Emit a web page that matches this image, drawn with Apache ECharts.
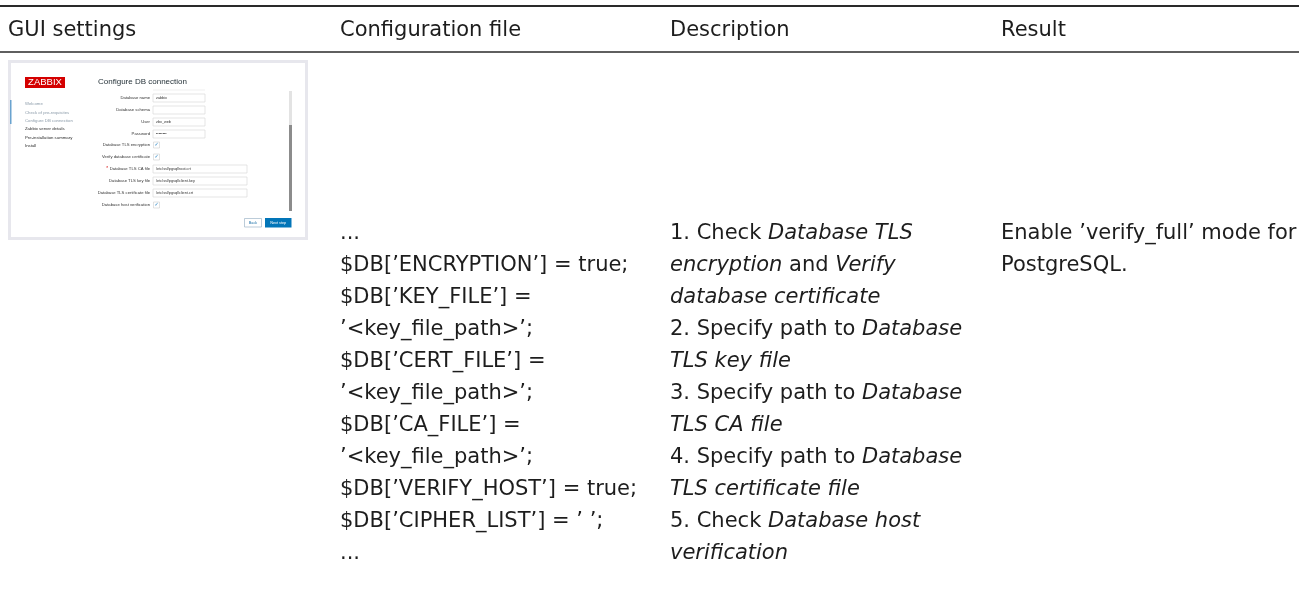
<!DOCTYPE html>
<html>
<head>
<meta charset="utf-8">
<script src="https://cdn.jsdelivr.net/npm/echarts@6/dist/echarts.min.js"></script>
<style>
html,body{margin:0;padding:0;background:#fff;}
#chart{width:1299px;height:600px;}
</style>
</head>
<body>
<div id="chart"></div>
<script>
// ---- table content ----
const headers = ['GUI settings', 'Configuration file', 'Description', 'Result'];
const configLines = [
  '...',
  '$DB[\u2019ENCRYPTION\u2019] = true;',
  '$DB[\u2019KEY_FILE\u2019] =',
  '\u2019<key_file_path>\u2019;',
  '$DB[\u2019CERT_FILE\u2019] =',
  '\u2019<key_file_path>\u2019;',
  '$DB[\u2019CA_FILE\u2019] =',
  '\u2019<key_file_path>\u2019;',
  '$DB[\u2019VERIFY_HOST\u2019] = true;',
  '$DB[\u2019CIPHER_LIST\u2019] = \u2019 \u2019;',
  '...'
];
const descriptionLines = [
  '1. Check {i|Database TLS}',
  '{i|encryption} and {i|Verify}',
  '{i|database certificate}',
  '2. Specify path to {i|Database}',
  '{i|TLS key file}',
  '3. Specify path to {i|Database}',
  '{i|TLS CA file}',
  '4. Specify path to {i|Database}',
  '{i|TLS certificate file}',
  '5. Check {i|Database host}',
  '{i|verification}'
];
const resultLines = ['Enable \u2019verify_full\u2019 mode for', 'PostgreSQL.'];

// ---- screenshot thumbnail content ----
const thumbMenu = ['Welcome', 'Check of pre-requisites', 'Configure DB connection', 'Zabbix server details', 'Pre-installation summary', 'Install'];
const thumbLabels = ['Database name', 'Database schema', 'User', 'Password', 'Database TLS encryption', 'Verify database certificate', 'Database TLS CA file', 'Database TLS key file', 'Database TLS certificate file', 'Database host verification'];
const thumbValues = ['zabbix', '', 'zbx_web', '\u2022\u2022\u2022\u2022\u2022\u2022\u2022\u2022', 'check', 'check', '/etc/ssl/pgsql/root.crt', '/etc/ssl/pgsql/client.key', '/etc/ssl/pgsql/client.crt', 'check'];

const FONT = 'DejaVu Sans';
const FS = 21;
const LH = 32;
const TXT = '#1d1d1d';
const colX = [8, 340, 670, 1001];
const firstLineY = 234;

const g = [];
// table rules
g.push({type:'line', shape:{x1:0,y1:6,x2:1299,y2:6}, style:{stroke:'#2a2a2a', lineWidth:2}});
g.push({type:'line', shape:{x1:0,y1:52,x2:1299,y2:52}, style:{stroke:'#2a2a2a', lineWidth:1.5}});

headers.forEach((h, i) => {
  g.push({type:'text', x:colX[i], y:31, style:{text:h, fontFamily:FONT, fontSize:FS, fill:TXT, verticalAlign:'middle'}});
});

function addLines(lines, x) {
  lines.forEach((t, i) => {
    g.push({type:'text', x:x, y:firstLineY + i * LH, style:{
      text:t, fontFamily:FONT, fontSize:FS, fill:TXT, verticalAlign:'middle',
      rich:{ i:{fontFamily:FONT, fontSize:FS, fontStyle:'italic', fill:TXT} }
    }});
  });
}
addLines(configLines, colX[1]);
addLines(descriptionLines, colX[2]);
addLines(resultLines, colX[3]);

// thumbnail
g.push({type:'rect', shape:{x:8,y:60,width:300,height:180}, style:{fill:'#e7e7ed'}});
g.push({type:'rect', shape:{x:11,y:63,width:294,height:174}, style:{fill:'#ffffff'}});
g.push({type:'rect', shape:{x:25,y:77,width:40,height:11}, style:{fill:'#d40000'}});
g.push({type:'text', x:45, y:82.5, style:{text:'ZABBIX', fontFamily:'Liberation Sans', fontSize:9.5, fill:'#fff', align:'center', verticalAlign:'middle'}});
g.push({type:'text', x:98, y:82, style:{text:'Configure DB connection', fontFamily:'Liberation Sans', fontSize:8, fill:'#1f2c33', verticalAlign:'middle'}});
g.push({type:'rect', shape:{x:10,y:100,width:1.5,height:24}, style:{fill:'#6aa3cf'}});
thumbMenu.forEach((t, i) => {
  g.push({type:'text', x:25, y:104 + i * 8.4, style:{text:t, fontFamily:'Liberation Sans', fontSize:4.3, fill: i < 3 ? '#8a9aa8' : '#2a2a2a', verticalAlign:'middle'}});
});
const rowY = [98, 110, 122, 134, 145, 157, 169, 181, 193, 205];
g.push({type:'line', shape:{x1:153,y1:90,x2:205,y2:90}, style:{stroke:'#e4e4e4', lineWidth:0.6}});
thumbLabels.forEach((t, i) => {
  g.push({type:'text', x:150, y:rowY[i], style:{text:t, fontFamily:'Liberation Sans', fontSize:4.2, fill:'#333', align:'right', verticalAlign:'middle'}});
  const v = thumbValues[i];
  if (v === 'check') {
    g.push({type:'rect', shape:{x:153.5,y:rowY[i]-3,width:6,height:6}, style:{fill:'#fff', stroke:'#cfcfcf', lineWidth:0.6}});
    g.push({type:'text', x:156.5, y:rowY[i], style:{text:'\u2713', fontFamily:FONT, fontSize:5, fill:'#1e7fc2', align:'center', verticalAlign:'middle'}});
  } else {
    const w = i >= 6 ? 94 : 52;
    g.push({type:'rect', shape:{x:153,y:rowY[i]-4,width:w,height:8}, style:{fill:'#fff', stroke:'#d4d4d4', lineWidth:0.6}});
    if (v) g.push({type:'text', x:156, y:rowY[i], style:{text:v, fontFamily:'Liberation Sans', fontSize:3.8, fill:'#333', verticalAlign:'middle'}});
  }
});
g.push({type:'text', x:108, y:169, style:{text:'*', fontFamily:'Liberation Sans', fontSize:4.5, fill:'#d40000', align:'right', verticalAlign:'middle'}});
g.push({type:'rect', shape:{x:289,y:91,width:3,height:120}, style:{fill:'#e3e3e3'}});
g.push({type:'rect', shape:{x:289,y:125,width:3,height:86}, style:{fill:'#8c8c8c'}});
g.push({type:'rect', shape:{x:244.5,y:218.5,width:17,height:8.5}, style:{fill:'#fff', stroke:'#9fb6c8', lineWidth:0.7}});
g.push({type:'text', x:253, y:222.8, style:{text:'Back', fontFamily:'Liberation Sans', fontSize:3.8, fill:'#1a6fa8', align:'center', verticalAlign:'middle'}});
g.push({type:'rect', shape:{x:265,y:218,width:26.5,height:9.5}, style:{fill:'#0275b8'}});
g.push({type:'text', x:278.2, y:222.8, style:{text:'Next step', fontFamily:'Liberation Sans', fontSize:3.8, fill:'#fff', align:'center', verticalAlign:'middle'}});

const chart = echarts.init(document.getElementById('chart'), null, {renderer:'canvas'});
chart.setOption({ animation:false, backgroundColor:'#fff', graphic:{elements:g} });
</script>
</body>
</html>
